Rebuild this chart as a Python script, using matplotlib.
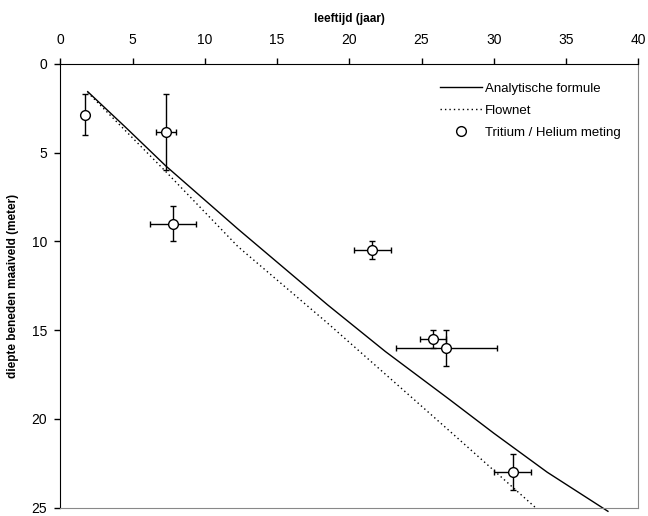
import matplotlib.pyplot as plt
from matplotlib.lines import Line2D

plt.rcParams['font.family'] = ['Liberation Sans', 'DejaVu Sans']

# tritium / helium measurements
leeftijd = [1.7, 7.3, 7.8, 21.6, 25.8, 26.7, 31.3]
diepte = [2.85, 3.85, 9.0, 10.5, 15.5, 16.0, 23.0]
x_err = [0.0, 0.7, 1.6, 1.3, 0.9, 3.5, 1.3]
y_err_low = [1.15, 2.15, 1.0, 0.5, 0.5, 1.0, 1.0]
y_err_high = [1.15, 2.1, 1.0, 0.5, 0.5, 1.0, 1.0]

# analytische formule
ana_t = [1.9, 4.5, 7.3, 12.3, 18.5, 22.5, 26.9, 30.0, 33.7, 37.9]
ana_z = [1.56, 3.55, 5.74, 9.3, 13.57, 16.2, 18.88, 20.8, 23.0, 25.2]

# flownet
flow_t = [1.9, 4.5, 7.3, 12.3, 18.5, 24.45, 27.5, 32.9]
flow_z = [1.6, 3.75, 6.06, 10.29, 14.6, 18.88, 21.08, 25.0]

fig = plt.figure(figsize=(6.48, 5.16), dpi=100)
ax = fig.add_axes([0.093, 0.016, 0.892, 0.86])

ax.plot(ana_t, ana_z, color='black', linewidth=1.0, clip_on=False)
ax.plot(flow_t, flow_z, color='black', linewidth=1.0, linestyle=(0, (1, 2.2)))
ax.errorbar(leeftijd, diepte, xerr=x_err, yerr=[y_err_low, y_err_high],
            fmt='o', mfc='white', mec='black', ms=7, mew=1.0,
            ecolor='black', elinewidth=1.0, capsize=2.5, capthick=1.0, zorder=3)

ax.set_xlim(0, 40)
ax.set_ylim(25, 0)
ax.set_xticks(range(0, 41, 5))
ax.set_yticks(range(0, 26, 5))
ax.xaxis.tick_top()
ax.xaxis.set_label_position('top')
ax.tick_params(axis='both', direction='out', length=4, width=1, labelsize=10, colors='black')
ax.tick_params(axis='x', pad=8.5)
ax.tick_params(axis='y', pad=5.5)
ax.set_xlabel('leeftijd (jaar)', fontsize=8.5, fontweight='bold', labelpad=8)
ax.set_ylabel('diepte beneden maaiveld (meter)', fontsize=8.5, fontweight='bold', labelpad=9)

ax.spines['left'].set_color('black')
ax.spines['top'].set_color('black')
ax.spines['right'].set_color('#888888')
ax.spines['bottom'].set_color('#888888')

handles = [
    Line2D([], [], color='black', linewidth=1.0),
    Line2D([], [], color='black', linewidth=1.0, linestyle=(0, (1, 2.2))),
    Line2D([], [], linestyle='none', marker='o', mfc='white', mec='black', ms=7),
]
labels = ['Analytische formule', 'Flownet', 'Tritium / Helium meting']
ax.legend(handles, labels, loc='upper right', bbox_to_anchor=(0.99, 0.985),
          frameon=False, fontsize=9.5, handlelength=3.2, handletextpad=0.2,
          labelspacing=0.75)

plt.savefig('out.png', dpi=100)
